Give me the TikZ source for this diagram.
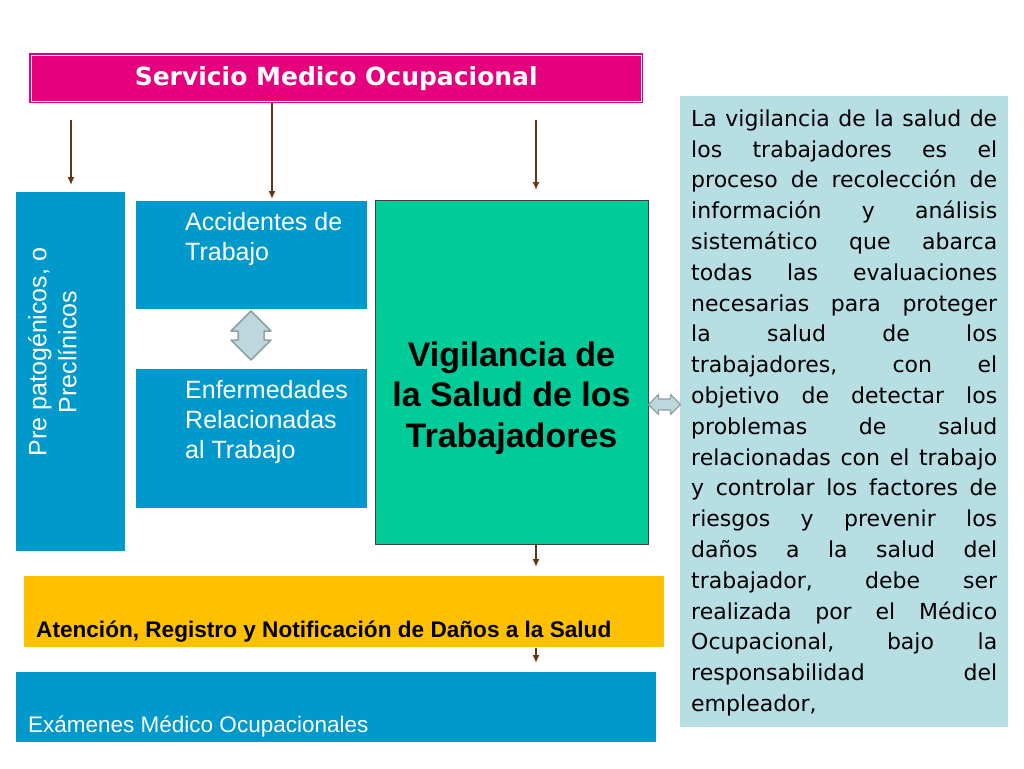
\documentclass[tikz,border=0pt]{standalone}
\usepackage{fontspec}
\setmainfont{Liberation Sans}
\newfontfamily\verdana{DejaVu Sans}
\usetikzlibrary{arrows.meta}

\definecolor{smpink}{RGB}{230,0,126}
\definecolor{smblue}{RGB}{0,153,204}
\definecolor{smgreen}{RGB}{0,204,153}
\definecolor{smyellow}{RGB}{255,192,0}
\definecolor{smteal}{RGB}{183,222,227}
\definecolor{smbrown}{RGB}{100,55,20}
\definecolor{smarrowfill}{RGB}{190,215,220}
\definecolor{smarrowline}{RGB}{140,160,165}

\tikzset{
	box/.style = {rectangle, inner sep = 0pt, anchor = north west},
	flow/.style = {->, smbrown, line width = 1.5pt},
	twoway/.style = {fill = smarrowfill, draw = smarrowline, line width = 1.5pt, line join = round},
	boxtext/.style = {inner sep = 0pt, text = white, font = \fontsize{25}{30}\selectfont}
}

\begin{document}
\begin{tikzpicture}[x = 1pt, y = -1pt, > = {Latex[length = 8pt, width = 7pt]}]

	% Canvas

	\useasboundingbox (0, 0) rectangle (1024, 768);

	% Title

	\node [box, fill = smpink, minimum width = 614pt, minimum height = 50pt, text = white,
		font = \verdana\bfseries\fontsize{25}{30}\selectfont] (servicio) at (29, 53) {Servicio Medico Ocupacional};
	\draw [white, line width = 0.9pt] ([shift = {(2.2, 2.2)}] servicio.north west) rectangle ([shift = {(-2.2, -2.2)}] servicio.south east);

	% Left column boxes

	\node [box, fill = smblue, minimum width = 109pt, minimum height = 359pt] (pre) at (16, 192) {};
	\node [boxtext, rotate = 90, align = center] (pretext) at (52.3, 352) {Pre patogénicos, o\\Preclínicos};

	\node [box, fill = smblue, minimum width = 231pt, minimum height = 108pt] (accid) at (136, 201) {};
	\node [boxtext, anchor = north west, align = left] (accidtext) at (185, 212) {Accidentes de\\Trabajo};

	\node [box, fill = smblue, minimum width = 231pt, minimum height = 139pt] (enferm) at (136, 369) {};
	\node [boxtext, anchor = north west, align = left] (enfermtext) at (185, 380) {Enfermedades\\Relacionadas\\al Trabajo};

	% Central box

	\node [box, fill = smgreen, draw = black!75, line width = 0.8pt, minimum width = 273pt, minimum height = 344pt] (vig) at (375, 200) {};
	\node [inner sep = 0pt, align = center, font = \bfseries\fontsize{34}{40.5}\selectfont] (vigtext) at (511.5, 398)
		{Vigilancia de\\la Salud de los\\Trabajadores};

	% Description box

	\node [box, fill = smteal, minimum width = 328pt, minimum height = 631pt] (desc) at (680, 96) {};
	\node [inner sep = 0pt, anchor = north west, text width = 306pt, align = justify,
		font = \verdana\fontsize{22}{30.8}\selectfont] (desctext) at (691, 109.3)
		{\tolerance = 10000 \hbadness = 10000 \hyphenpenalty = 10000
		La vigilancia de la salud de\linebreak
		los trabajadores es el\linebreak
		proceso de recolección de\linebreak
		información y análisis\linebreak
		sistemático que abarca\linebreak
		todas las evaluaciones\linebreak
		necesarias para proteger\linebreak
		la salud de los\linebreak
		trabajadores, con el\linebreak
		objetivo de detectar los\linebreak
		problemas de salud\linebreak
		relacionadas con el trabajo\linebreak
		y controlar los factores de\linebreak
		riesgos y prevenir los\linebreak
		daños a la salud del\linebreak
		trabajador, debe ser\linebreak
		realizada por el Médico\linebreak
		Ocupacional, bajo la\linebreak
		responsabilidad del\linebreak
		empleador,};

	% Bottom boxes

	\node [box, fill = smyellow, minimum width = 640pt, minimum height = 71pt] (aten) at (24, 576) {};
	\node [inner sep = 0pt, anchor = base west, font = \bfseries\fontsize{22.6}{27}\selectfont] (atentext) at (36, 637)
		{Atención, Registro y Notificación de Daños a la Salud};

	\node [box, fill = smblue, minimum width = 640pt, minimum height = 70pt] (exam) at (16, 672) {};
	\node [inner sep = 0pt, anchor = base west, text = white, font = \fontsize{22.5}{27}\selectfont] (examtext) at (28, 732)
		{Exámenes Médico Ocupacionales};

	% Flow arrows

	\coordinate (a1) at (71, 120);
	\coordinate (a2) at (272, 103);
	\coordinate (a3) at (536, 120);

	\draw [flow, shorten > = 7pt] (a1) -- (a1 |- pre.north);
	\draw [flow, shorten > = 2pt] (a2) -- (a2 |- accid.north);
	\draw [flow, shorten > = 10pt] (a3) -- (a3 |- vig.north);
	\draw [flow, shorten > = 9pt] (vig.south -| a3) -- (aten.north -| a3);
	\draw [flow, shorten > = 9pt, shorten < = 1pt] (aten.south -| a3) -- (exam.north -| a3);

	% Two-way arrows

	\draw [twoway, shift = {(251, 335.5)}] (0, -24.5) -- (20, -4.5) -- (13, -4.5) -- (13, 4.5) -- (20, 4.5)
		-- (0, 24.5) -- (-20, 4.5) -- (-13, 4.5) -- (-13, -4.5) -- (-20, -4.5) -- cycle;

	\draw [twoway, line width = 1.2pt, shift = {(664.5, 404.5)}] (-16, 0) -- (-6, -10) -- (-6, -5.5) -- (6, -5.5) -- (6, -10)
		-- (16, 0) -- (6, 10) -- (6, 5.5) -- (-6, 5.5) -- (-6, 10) -- cycle;

\end{tikzpicture}
\end{document}
